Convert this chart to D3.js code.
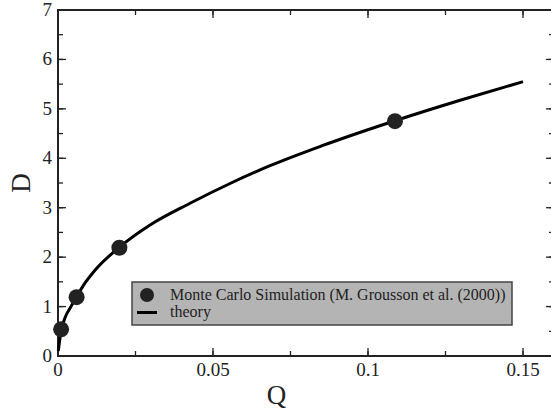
<!DOCTYPE html>
<html>
<head>
<meta charset="utf-8">
<script src="https://cdn.jsdelivr.net/npm/d3@7"></script>
<style>
  body { margin: 0; background: #fff; }
  text { font-family: "Liberation Serif", "DejaVu Serif", serif; fill: #222; }
</style>
</head>
<body>
<div id="chart"></div>
<script>

// Monte Carlo points
var mcQ = [0.001, 0.006, 0.0198, 0.1087];
var mcD = [0.54, 1.19, 2.19, 4.75];

// theory curve
var theoryQ = [0.0001, 0.0005, 0.001, 0.0023, 0.004, 0.006, 0.0082, 0.012, 0.0198, 0.0297, 0.0426, 0.0555, 0.0684, 0.085, 0.1087, 0.13, 0.15];
var theoryD = [0.1, 0.3, 0.5, 0.78, 0.98, 1.2, 1.43, 1.74, 2.2, 2.65, 3.09, 3.49, 3.85, 4.25, 4.76, 5.18, 5.55];

var xTicks = [0, 0.05, 0.1, 0.15];
var xTickLabels = ["0", "0.05", "0.1", "0.15"];
var yTicks = [0, 1, 2, 3, 4, 5, 6, 7];

var legendLabels = ["Monte Carlo Simulation (M. Grousson et al. (2000))", "theory"];

(function() {

  var W = 551, H = 413;
  var pLeft = 58, pRight = 554, pTop = 10, pBottom = 356;

  var svg = d3.select("#chart").append("svg")
    .attr("width", W)
    .attr("height", H);

  var x = d3.scaleLinear().domain([0, 0.16]).range([pLeft, pRight]);
  var y = d3.scaleLinear().domain([0, 7]).range([pBottom, pTop]);

  var major = 8, minor = 5;
  var xMinor = d3.range(0, 0.1601, 0.025);
  var yMinor = d3.range(0, 7.01, 0.5);

  var axes = svg.append("g").attr("stroke", "#222");

  // ticks on all four sides, pointing inward
  function tickLines(vals, len, horizontal) {
    vals.forEach(function(v) {
      if (horizontal) {
        axes.append("line").attr("x1", x(v)).attr("x2", x(v)).attr("y1", pBottom).attr("y2", pBottom - len).attr("stroke-width", 1.3);
        axes.append("line").attr("x1", x(v)).attr("x2", x(v)).attr("y1", pTop).attr("y2", pTop + len).attr("stroke-width", 1.3);
      } else {
        axes.append("line").attr("y1", y(v)).attr("y2", y(v)).attr("x1", pLeft).attr("x2", pLeft + len).attr("stroke-width", 1.3);
        axes.append("line").attr("y1", y(v)).attr("y2", y(v)).attr("x1", pRight).attr("x2", pRight - len).attr("stroke-width", 1.3);
      }
    });
  }
  tickLines(xMinor, minor, true);
  tickLines(xTicks, major, true);
  tickLines(yMinor, minor, false);
  tickLines(yTicks, major, false);

  axes.append("rect")
    .attr("x", pLeft).attr("y", pTop)
    .attr("width", pRight - pLeft).attr("height", pBottom - pTop)
    .attr("fill", "none")
    .attr("stroke-width", 2);

  // tick labels
  svg.selectAll(".xlab").data(xTicks).enter().append("text")
    .attr("class", "xlab")
    .attr("x", function(d) { return x(d); })
    .attr("y", pBottom + 20)
    .attr("text-anchor", "middle")
    .attr("font-size", 19)
    .text(function(d, i) { return xTickLabels[i]; });

  svg.selectAll(".ylab").data(yTicks).enter().append("text")
    .attr("class", "ylab")
    .attr("x", pLeft - 6)
    .attr("y", function(d) { return y(d) + 6; })
    .attr("text-anchor", "end")
    .attr("font-size", 19)
    .text(function(d) { return d; });

  svg.append("text")
    .attr("x", (x(0) + x(0.15)) / 2 - 14)
    .attr("y", 404)
    .attr("text-anchor", "middle")
    .attr("font-size", 27)
    .text("Q");

  svg.append("text")
    .attr("transform", "translate(30," + y(3.5) + ") rotate(-90)")
    .attr("text-anchor", "middle")
    .attr("font-size", 27)
    .text("D");

  // theory line
  var line = d3.line()
    .x(function(d) { return x(d[0]); })
    .y(function(d) { return y(d[1]); })
    .curve(d3.curveMonotoneX);

  svg.append("path")
    .attr("d", line(d3.zip(theoryQ, theoryD)))
    .attr("fill", "none")
    .attr("stroke", "#000")
    .attr("stroke-width", 3);

  svg.selectAll(".mc").data(d3.zip(mcQ, mcD)).enter().append("circle")
    .attr("class", "mc")
    .attr("cx", function(d) { return x(d[0]); })
    .attr("cy", function(d) { return y(d[1]); })
    .attr("r", 8)
    .attr("fill", "#222");

  // legend
  var lg = svg.append("g").attr("transform", "translate(132,282)");
  lg.append("rect")
    .attr("width", 380).attr("height", 43)
    .attr("fill", "#b4b4b4")
    .attr("stroke", "#444")
    .attr("stroke-width", 1.5);
  lg.append("circle").attr("cx", 15).attr("cy", 13).attr("r", 7).attr("fill", "#222");
  lg.append("line").attr("x1", 5).attr("x2", 25).attr("y1", 30.5).attr("y2", 30.5)
    .attr("stroke", "#000").attr("stroke-width", 3);
  lg.selectAll(".lt").data(legendLabels).enter().append("text")
    .attr("class", "lt")
    .attr("x", 38)
    .attr("y", function(d, i) { return 18 + i * 17; })
    .attr("font-size", 16)
    .text(function(d) { return d; });

})();

</script>
</body>
</html>
